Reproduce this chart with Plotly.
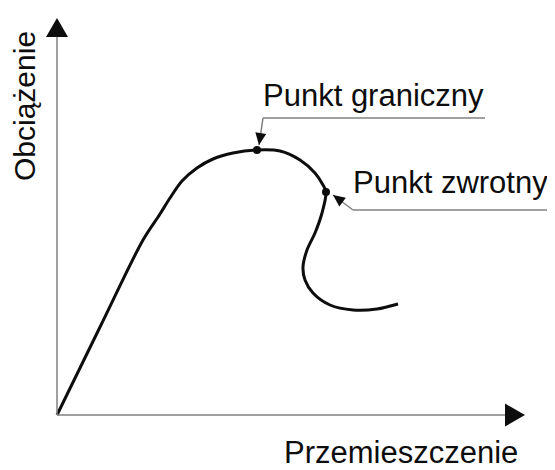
import math
import plotly.graph_objects as go

# Curve (arbitrary units: displacement, load)
displacement = [0, 44, 86, 103, 113, 125, 140, 156, 176, 200, 223, 243, 258, 266,
                269, 265, 258, 250, 246, 248, 256, 273, 296, 320, 341]
load = [0, 90, 175, 201, 217, 234, 247, 256, 262, 265, 264, 255, 242, 230,
        223, 202, 182, 165, 148, 135, 122, 110, 105, 106, 111]

# Marked points on the curve
point_names = ["Punkt graniczny", "Punkt zwrotny"]
point_x = [200, 269]
point_y = [265, 223]

x_label = "Przemieszczenie"
y_label = "Obciążenie"

FONT = "Liberation Sans, Arial, sans-serif"
AXIS_GRAY = "#808080"
INK = "#0d0d0d"

X_MAX, Y_MAX = 468, 397   # axis arrow tips


def tri_path(tip, tail, length, half_w):
    tx, ty = tip
    dx, dy = tx - tail[0], ty - tail[1]
    n = math.hypot(dx, dy)
    ux, uy = dx / n, dy / n
    bx, by = tx - ux * length, ty - uy * length
    px, py = -uy * half_w, ux * half_w
    return (f"M {tx},{ty} L {bx + px},{by + py} L {bx - px},{by - py} Z")


fig = go.Figure()

# axis lines
fig.add_shape(type="line", x0=0, y0=0, x1=X_MAX - 18, y1=0,
              line=dict(color=AXIS_GRAY, width=1.5))
fig.add_shape(type="line", x0=0, y0=0, x1=0, y1=Y_MAX - 17,
              line=dict(color=AXIS_GRAY, width=1.5))
# axis arrow heads
fig.add_shape(type="path", path=tri_path((X_MAX, 0), (0, 0), 20, 11.5),
              fillcolor=INK, line=dict(width=0))
fig.add_shape(type="path", path=tri_path((0, Y_MAX), (0, 0), 19, 11),
              fillcolor=INK, line=dict(width=0))

# curve
fig.add_trace(go.Scatter(x=displacement, y=load, mode="lines",
                         line=dict(color=INK, width=3, shape="spline", smoothing=0.9),
                         hoverinfo="skip", showlegend=False))
# points
fig.add_trace(go.Scatter(x=point_x, y=point_y, mode="markers",
                         marker=dict(color=INK, size=8),
                         hoverinfo="skip", showlegend=False))

# labels with underlines and leaders
label_x = [204, 294]
label_y = [320, 233]
under_y = [297, 205]
under_x1 = [428, 500]
tail_x = [206, 296]
tips = [(202, 270), (276, 220)]
for i, name in enumerate(point_names):
    fig.add_annotation(x=label_x[i], y=label_y[i], text=name, showarrow=False,
                       xanchor="left", yanchor="middle",
                       font=dict(family=FONT, size=31, color=INK))
    fig.add_shape(type="line", x0=tail_x[i], y0=under_y[i], x1=under_x1[i], y1=under_y[i],
                  line=dict(color=AXIS_GRAY, width=1.5))
    tail = (tail_x[i], under_y[i])
    fig.add_shape(type="line", x0=tail[0], y0=tail[1], x1=tips[i][0], y1=tips[i][1],
                  line=dict(color=AXIS_GRAY, width=1.5))
    fig.add_shape(type="path", path=tri_path(tips[i], tail, 12, 5.5),
                  fillcolor=INK, line=dict(width=0))

fig.add_annotation(x=463, y=-37, text=x_label, showarrow=False,
                   xanchor="right", yanchor="middle",
                   font=dict(family=FONT, size=31, color=INK))
fig.add_annotation(x=-33, y=309, text=y_label, showarrow=False, textangle=-90,
                   xanchor="center", yanchor="middle", borderpad=0,
                   font=dict(family=FONT, size=30, color=INK))

# page body has an 8px margin, so the figure is 547x462 and offset by 8px
fig.update_layout(width=547, height=462, margin=dict(l=0, r=0, t=0, b=0),
                  paper_bgcolor="white", plot_bgcolor="white",
                  xaxis=dict(range=[-49, 498], visible=False, fixedrange=True),
                  yaxis=dict(range=[-55, 407], visible=False, fixedrange=True))

fig.write_html("out.html")
